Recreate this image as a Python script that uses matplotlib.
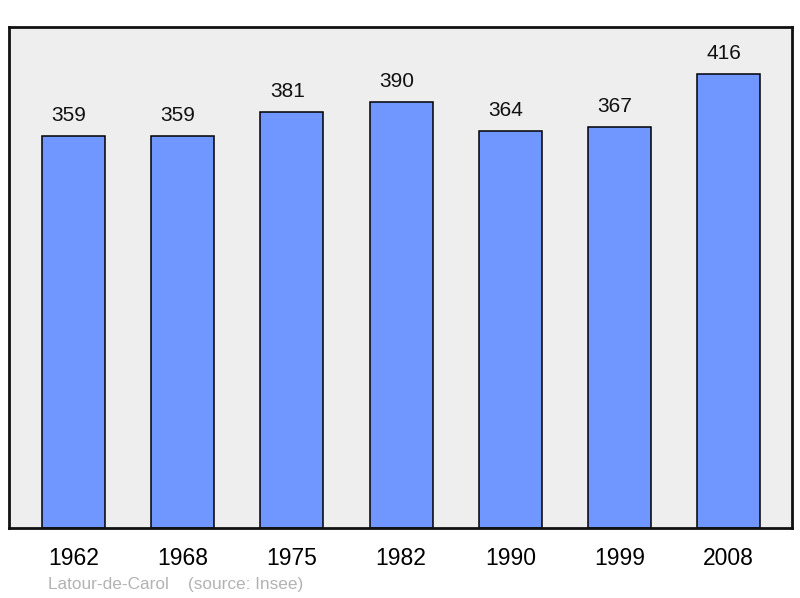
import matplotlib
matplotlib.use("Agg")
import matplotlib.pyplot as plt

# Population by census year
years = ["1962", "1968", "1975", "1982", "1990", "1999", "2008"]
population = [359, 359, 381, 390, 364, 367, 416]

plt.rcParams['font.family'] = ['Liberation Sans', 'DejaVu Sans']

fig = plt.figure(figsize=(8, 5.98), dpi=100)
ax = fig.add_axes([9 / 800, 70 / 598, 783 / 800, 501 / 598])
ax.set_facecolor("#eeeeee")

x = range(len(years))
ax.bar(x, population, width=0.577, color="#7096ff", edgecolor="black",
       linewidth=1.1, zorder=2)

for xi, v in zip(x, population):
    ax.annotate(str(v), (xi, v), xytext=(-3.3, 8), textcoords="offset points",
                ha="center", va="bottom", fontsize=15, color="#111111")

ax.set_xlim(-0.59, 6.58)
ax.set_ylim(0, 459)
ax.set_yticks([])
ax.set_xticks(list(x))
ax.set_xticklabels(years, fontsize=16.5)
ax.tick_params(axis="x", length=0, pad=14)
for sp in ax.spines.values():
    sp.set_linewidth(2)
    sp.set_color("#111111")

fig.text(48 / 800, 1 - 584 / 598, "Latour-de-Carol    (source: Insee)",
         fontsize=12.4, color="#b3b3b3", ha="left", va="center")

fig.savefig("out.png", dpi=100, facecolor="white")
